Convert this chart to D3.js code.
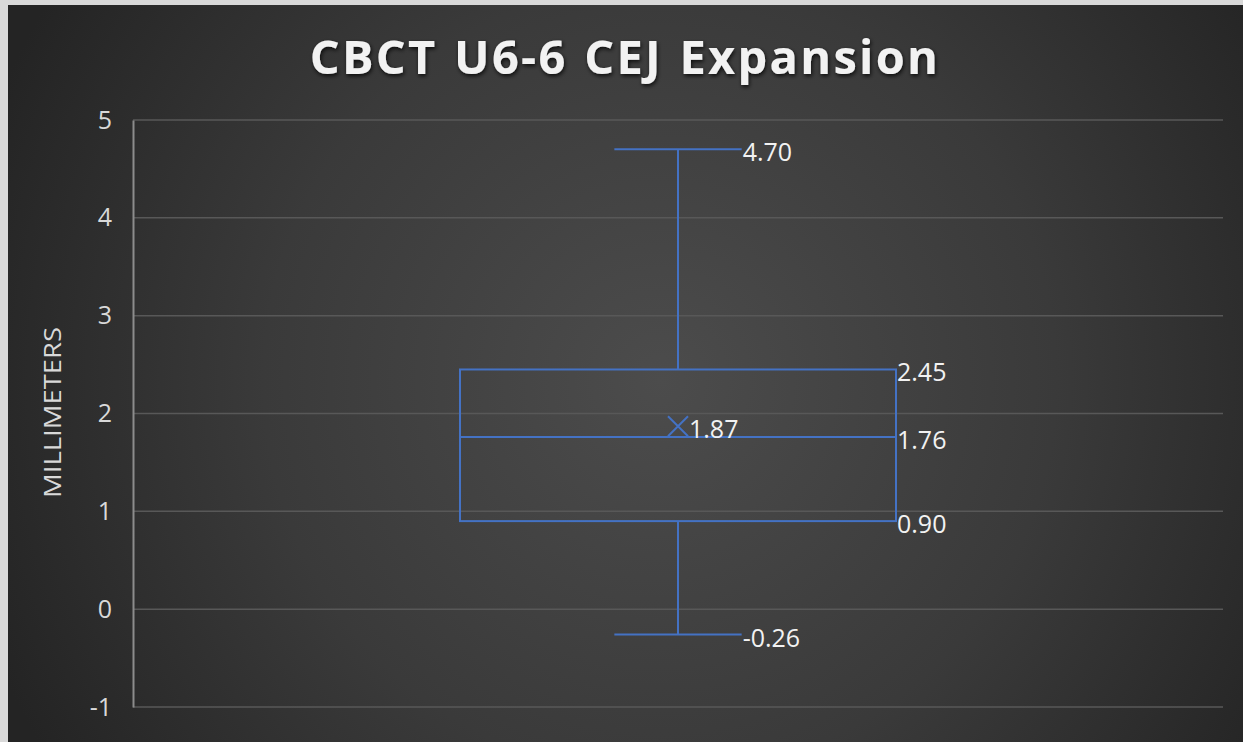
<!DOCTYPE html>
<html>
<head>
<meta charset="utf-8">
<script src="https://cdn.jsdelivr.net/npm/d3@7"></script>
<style>
  html, body { margin: 0; padding: 0; background: #d9d9d9; }
  svg { display: block; }
</style>
</head>
<body>
<svg id="chart" width="1243" height="742"></svg>
<script>
// Box-plot summary for CBCT U6-6 CEJ expansion (mm)
const categories = ["U6-6 CEJ"];
const whiskerMin = [-0.26];
const q1 = [0.90];
const median = [1.76];
const q3 = [2.45];
const whiskerMax = [4.70];
const mean = [1.87];
const yTicks = [-1, 0, 1, 2, 3, 4, 5];

const W = 1243, H = 742;
const svg = d3.select("#chart");
const FONT = "'Open Sans', 'DejaVu Sans', sans-serif";
// plain hyphen for negatives, as in the original spreadsheet chart
const fmtTick = d => String(d);
const fmt = d => d3.format(".2f")(d).replace("\u2212", "-");

// Dark radial-gradient chart background
const defs = svg.append("defs");
const grad = defs.append("radialGradient")
  .attr("id", "bg").attr("gradientUnits", "userSpaceOnUse")
  .attr("cx", 660).attr("cy", 380).attr("r", 720);
grad.append("stop").attr("offset", "0%").attr("stop-color", "#4c4c4c");
grad.append("stop").attr("offset", "55%").attr("stop-color", "#3a3a3a");
grad.append("stop").attr("offset", "100%").attr("stop-color", "#242424");

const shadow = defs.append("filter").attr("id", "tshadow")
  .attr("x", "-10%").attr("y", "-30%").attr("width", "120%").attr("height", "160%");
shadow.append("feDropShadow").attr("dx", 1).attr("dy", 2).attr("stdDeviation", 2)
  .attr("flood-color", "#000").attr("flood-opacity", 0.8);

svg.append("rect").attr("x", 8).attr("y", 5).attr("width", W - 8).attr("height", H - 5)
  .attr("fill", "url(#bg)");

const margin = { left: 133, right: 1223, top: 120, bottom: 707 };

const y = d3.scaleLinear().domain([-1, 5]).range([margin.bottom, margin.top]);
const x = d3.scaleBand().domain(categories).range([margin.left, margin.right])
  .paddingInner(0).paddingOuter(0.75);

// Gridlines
svg.append("g").selectAll("line").data(yTicks).join("line")
  .attr("x1", margin.left).attr("x2", margin.right)
  .attr("y1", d => y(d)).attr("y2", d => y(d))
  .attr("stroke", "#585858").attr("stroke-width", 1.5);

// Y axis
const yAxis = d3.axisLeft(y).tickValues(yTicks).tickSize(0).tickPadding(21)
  .tickFormat(fmtTick);
const gy = svg.append("g").attr("transform", `translate(${margin.left},0)`).call(yAxis);
gy.select(".domain").attr("stroke", "#8c8c8c").attr("stroke-width", 2);
gy.selectAll("text").attr("fill", "#d9d9d9")
  .style("font-family", FONT).style("font-size", "25px");

// Axis title
svg.append("text")
  .attr("transform", `translate(51,${y(2) - 1}) rotate(-90)`)
  .attr("text-anchor", "middle")
  .attr("dominant-baseline", "central")
  .attr("fill", "#d9d9d9")
  .attr("textLength", 171).attr("lengthAdjust", "spacingAndGlyphs")
  .style("font-family", FONT).style("font-size", "24px")
  .text("MILLIMETERS");

// Chart title
svg.append("text")
  .attr("x", 625).attr("y", 74)
  .attr("text-anchor", "middle")
  .attr("fill", "#f2f2f2")
  .attr("filter", "url(#tshadow)")
  .style("font-family", FONT)
  .style("font-weight", "bold").style("font-size", "47px").style("letter-spacing", "2.3px")
  .style("word-spacing", "2px")
  .text("CBCT  U6-6  CEJ  Expansion");

// Box plot
const blue = "#4472c4";
const data = categories.map((c, i) => ({
  c, min: whiskerMin[i], q1: q1[i], med: median[i], q3: q3[i], max: whiskerMax[i], mean: mean[i]
}));

const g = svg.append("g");
const labelStyle = sel => sel.attr("fill", "#f2f2f2")
  .style("font-family", FONT).style("font-size", "25px")
  .attr("dominant-baseline", "central");

data.forEach(d => {
  const x0 = x(d.c), bw = x.bandwidth(), cx = x0 + bw / 2;
  const capHalf = bw * 0.146;

  // whiskers
  g.append("line").attr("x1", cx).attr("x2", cx).attr("y1", y(d.max)).attr("y2", y(d.q3))
    .attr("stroke", blue).attr("stroke-width", 2);
  g.append("line").attr("x1", cx).attr("x2", cx).attr("y1", y(d.q1)).attr("y2", y(d.min))
    .attr("stroke", blue).attr("stroke-width", 2);
  [d.max, d.min].forEach(v => {
    g.append("line").attr("x1", cx - capHalf).attr("x2", cx + capHalf)
      .attr("y1", y(v)).attr("y2", y(v)).attr("stroke", blue).attr("stroke-width", 2);
    g.append("text").attr("x", cx + capHalf + 1).attr("y", y(v) + 2).call(labelStyle).text(fmt(v));
  });

  // box
  g.append("rect").attr("x", x0).attr("y", y(d.q3)).attr("width", bw)
    .attr("height", y(d.q1) - y(d.q3))
    .attr("fill", "none").attr("stroke", blue).attr("stroke-width", 2);
  g.append("line").attr("x1", x0).attr("x2", x0 + bw).attr("y1", y(d.med)).attr("y2", y(d.med))
    .attr("stroke", blue).attr("stroke-width", 2);
  [d.q3, d.med, d.q1].forEach(v => {
    g.append("text").attr("x", x0 + bw + 1).attr("y", y(v) + 2).call(labelStyle).text(fmt(v));
  });

  // mean marker
  const m = 10, my = y(d.mean);
  g.append("path")
    .attr("d", `M${cx - m},${my - m}L${cx + m},${my + m}M${cx - m},${my + m}L${cx + m},${my - m}`)
    .attr("stroke", blue).attr("stroke-width", 2).attr("fill", "none");
  g.append("text").attr("x", cx + m + 1).attr("y", my + 2).call(labelStyle).text(fmt(d.mean));
});
</script>
</body>
</html>
